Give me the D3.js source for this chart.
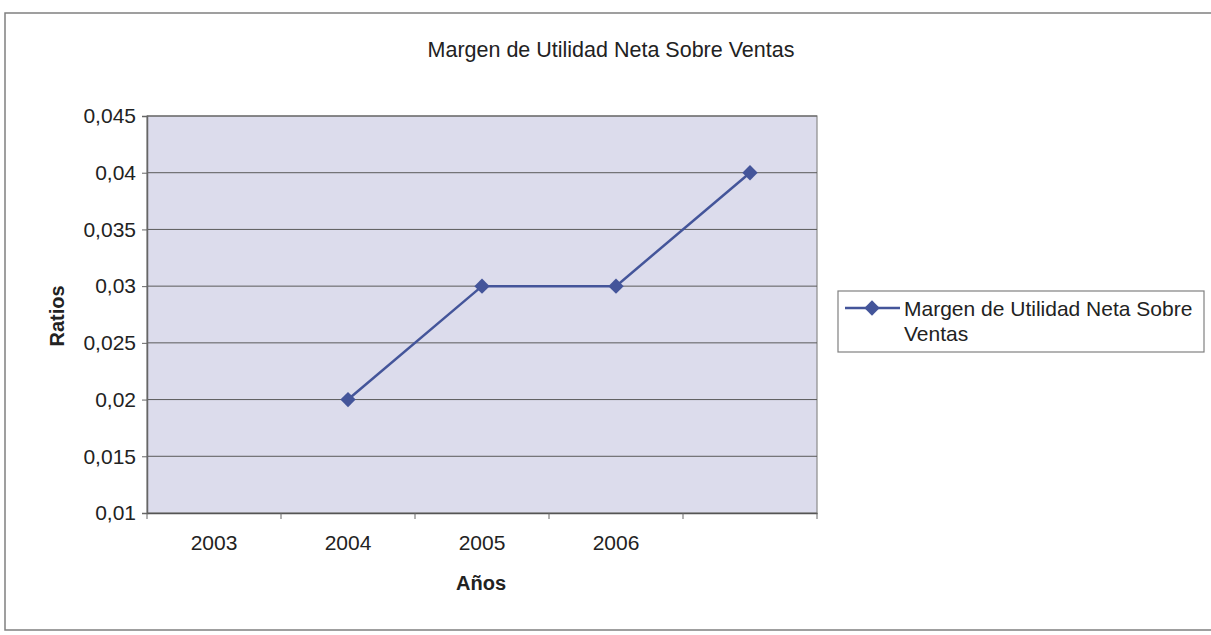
<!DOCTYPE html>
<html>
<head>
<meta charset="utf-8">
<script src="https://cdnjs.cloudflare.com/ajax/libs/d3/7.8.5/d3.min.js"></script>
<style>
  body { margin: 0; background: #fff; }
  text { font-family: Arial, "Liberation Sans", sans-serif; fill: #222; }
</style>
</head>
<body>
<div id="chart"></div>
<script>
var years = ["2003", "2004", "2005", "2006", ""];
var ratios = [null, 0.02, 0.03, 0.03, 0.04];
var yTicks = [0.01, 0.015, 0.02, 0.025, 0.03, 0.035, 0.04, 0.045];
var seriesName = ["Margen de Utilidad Neta Sobre", "Ventas"];

var svgWidth = 1211;
var svgHeight = 635;

var margin = { top: 116, right: 394, bottom: 122, left: 147 };
var width = svgWidth - margin.left - margin.right;
var height = svgHeight - margin.top - margin.bottom;

var svg = d3.select("#chart")
  .append("svg")
  .attr("width", svgWidth)
  .attr("height", svgHeight);

// outer frame (right edge is not visible in the scan)
svg.append("path")
  .attr("d", "M1211,13 L5,13 L5,630 L1211,630")
  .attr("fill", "none")
  .attr("stroke", "#808080")
  .attr("stroke-width", 1.5);

svg.append("text")
  .attr("x", 611)
  .attr("y", 57)
  .attr("text-anchor", "middle")
  .style("font-size", "21.5px")
  .text("Margen de Utilidad Neta Sobre Ventas");

var chartGroup = svg.append("g")
  .attr("transform", `translate(${margin.left}, ${margin.top})`);

var x = d3.scaleBand()
  .domain(years)
  .range([0, width]);

var y = d3.scaleLinear()
  .domain([0.01, 0.045])
  .range([height, 0]);

var loc = d3.formatLocale({ decimal: ",", thousands: ".", grouping: [3], currency: ["", ""] });
var fmt = loc.format("~g");

chartGroup.append("rect")
  .attr("width", width)
  .attr("height", height)
  .attr("fill", "#dcdcec")
  .attr("stroke", "#8a8a8a")
  .attr("stroke-width", 1.2);

// gridlines
chartGroup.selectAll(".grid")
  .data(yTicks.slice(1))
  .enter()
  .append("line")
  .attr("x1", 0)
  .attr("x2", width)
  .attr("y1", d => y(d))
  .attr("y2", d => y(d))
  .attr("stroke", "#5a5a5a")
  .attr("stroke-width", 1);

var leftAxis = d3.axisLeft(y)
  .tickValues(yTicks)
  .tickFormat(fmt)
  .tickSize(5)
  .tickPadding(6);

var yAxis = chartGroup.append("g").call(leftAxis);
yAxis.select(".domain").attr("stroke", "#666").attr("stroke-width", 1.5);
yAxis.selectAll(".tick line").attr("stroke", "#666");
yAxis.selectAll("text")
  .style("font-size", "21px")
  .style("font-family", "Arial, 'Liberation Sans', sans-serif")
  .attr("fill", "#222");

// x axis: ticks on band boundaries, labels centered in bands
var bottomAxis = d3.axisBottom(x).tickSize(0).tickPadding(22);
var xAxis = chartGroup.append("g")
  .attr("transform", `translate(0, ${height})`)
  .call(bottomAxis);
xAxis.select(".domain").attr("stroke", "#555").attr("stroke-width", 1.5);
xAxis.selectAll("text")
  .style("font-size", "21px")
  .style("font-family", "Arial, 'Liberation Sans', sans-serif")
  .attr("fill", "#222");

chartGroup.selectAll(".xtick")
  .data(d3.range(years.length + 1))
  .enter()
  .append("line")
  .attr("x1", d => d * x.step())
  .attr("x2", d => d * x.step())
  .attr("y1", height)
  .attr("y2", height + 6)
  .attr("stroke", "#666");

var pts = years.map((c, i) => ({ cat: c, v: ratios[i] })).filter(d => d.v !== null);

var line = d3.line()
  .x(d => x(d.cat) + x.bandwidth() / 2)
  .y(d => y(d.v));

chartGroup.append("path")
  .datum(pts)
  .attr("d", line)
  .attr("fill", "none")
  .attr("stroke", "#44559a")
  .attr("stroke-width", 2.5);

var diamond = d3.symbol().type(d3.symbolDiamond2).size(150);

chartGroup.selectAll(".pt")
  .data(pts)
  .enter()
  .append("path")
  .attr("d", diamond)
  .attr("transform", d => `translate(${x(d.cat) + x.bandwidth() / 2}, ${y(d.v)})`)
  .attr("fill", "#44559a");

// axis titles
svg.append("text")
  .attr("transform", "translate(64, 316) rotate(-90)")
  .attr("text-anchor", "middle")
  .style("font-size", "20px")
  .style("font-weight", "bold")
  .text("Ratios");

svg.append("text")
  .attr("x", 481)
  .attr("y", 590)
  .attr("text-anchor", "middle")
  .style("font-size", "20px")
  .style("font-weight", "bold")
  .text("Años");

// legend
var legend = svg.append("g");
legend.append("rect")
  .attr("x", 838)
  .attr("y", 291)
  .attr("width", 366)
  .attr("height", 61)
  .attr("fill", "#fff")
  .attr("stroke", "#808080")
  .attr("stroke-width", 1.2);

legend.append("line")
  .attr("x1", 845)
  .attr("x2", 900)
  .attr("y1", 308)
  .attr("y2", 308)
  .attr("stroke", "#44559a")
  .attr("stroke-width", 2.5);

legend.append("path")
  .attr("d", diamond)
  .attr("transform", "translate(872, 308)")
  .attr("fill", "#44559a");

legend.selectAll(".lt")
  .data(seriesName)
  .enter()
  .append("text")
  .attr("x", 904)
  .attr("y", (d, i) => 316 + i * 25)
  .style("font-size", "21px")
  .text(d => d);
</script>
</body>
</html>
